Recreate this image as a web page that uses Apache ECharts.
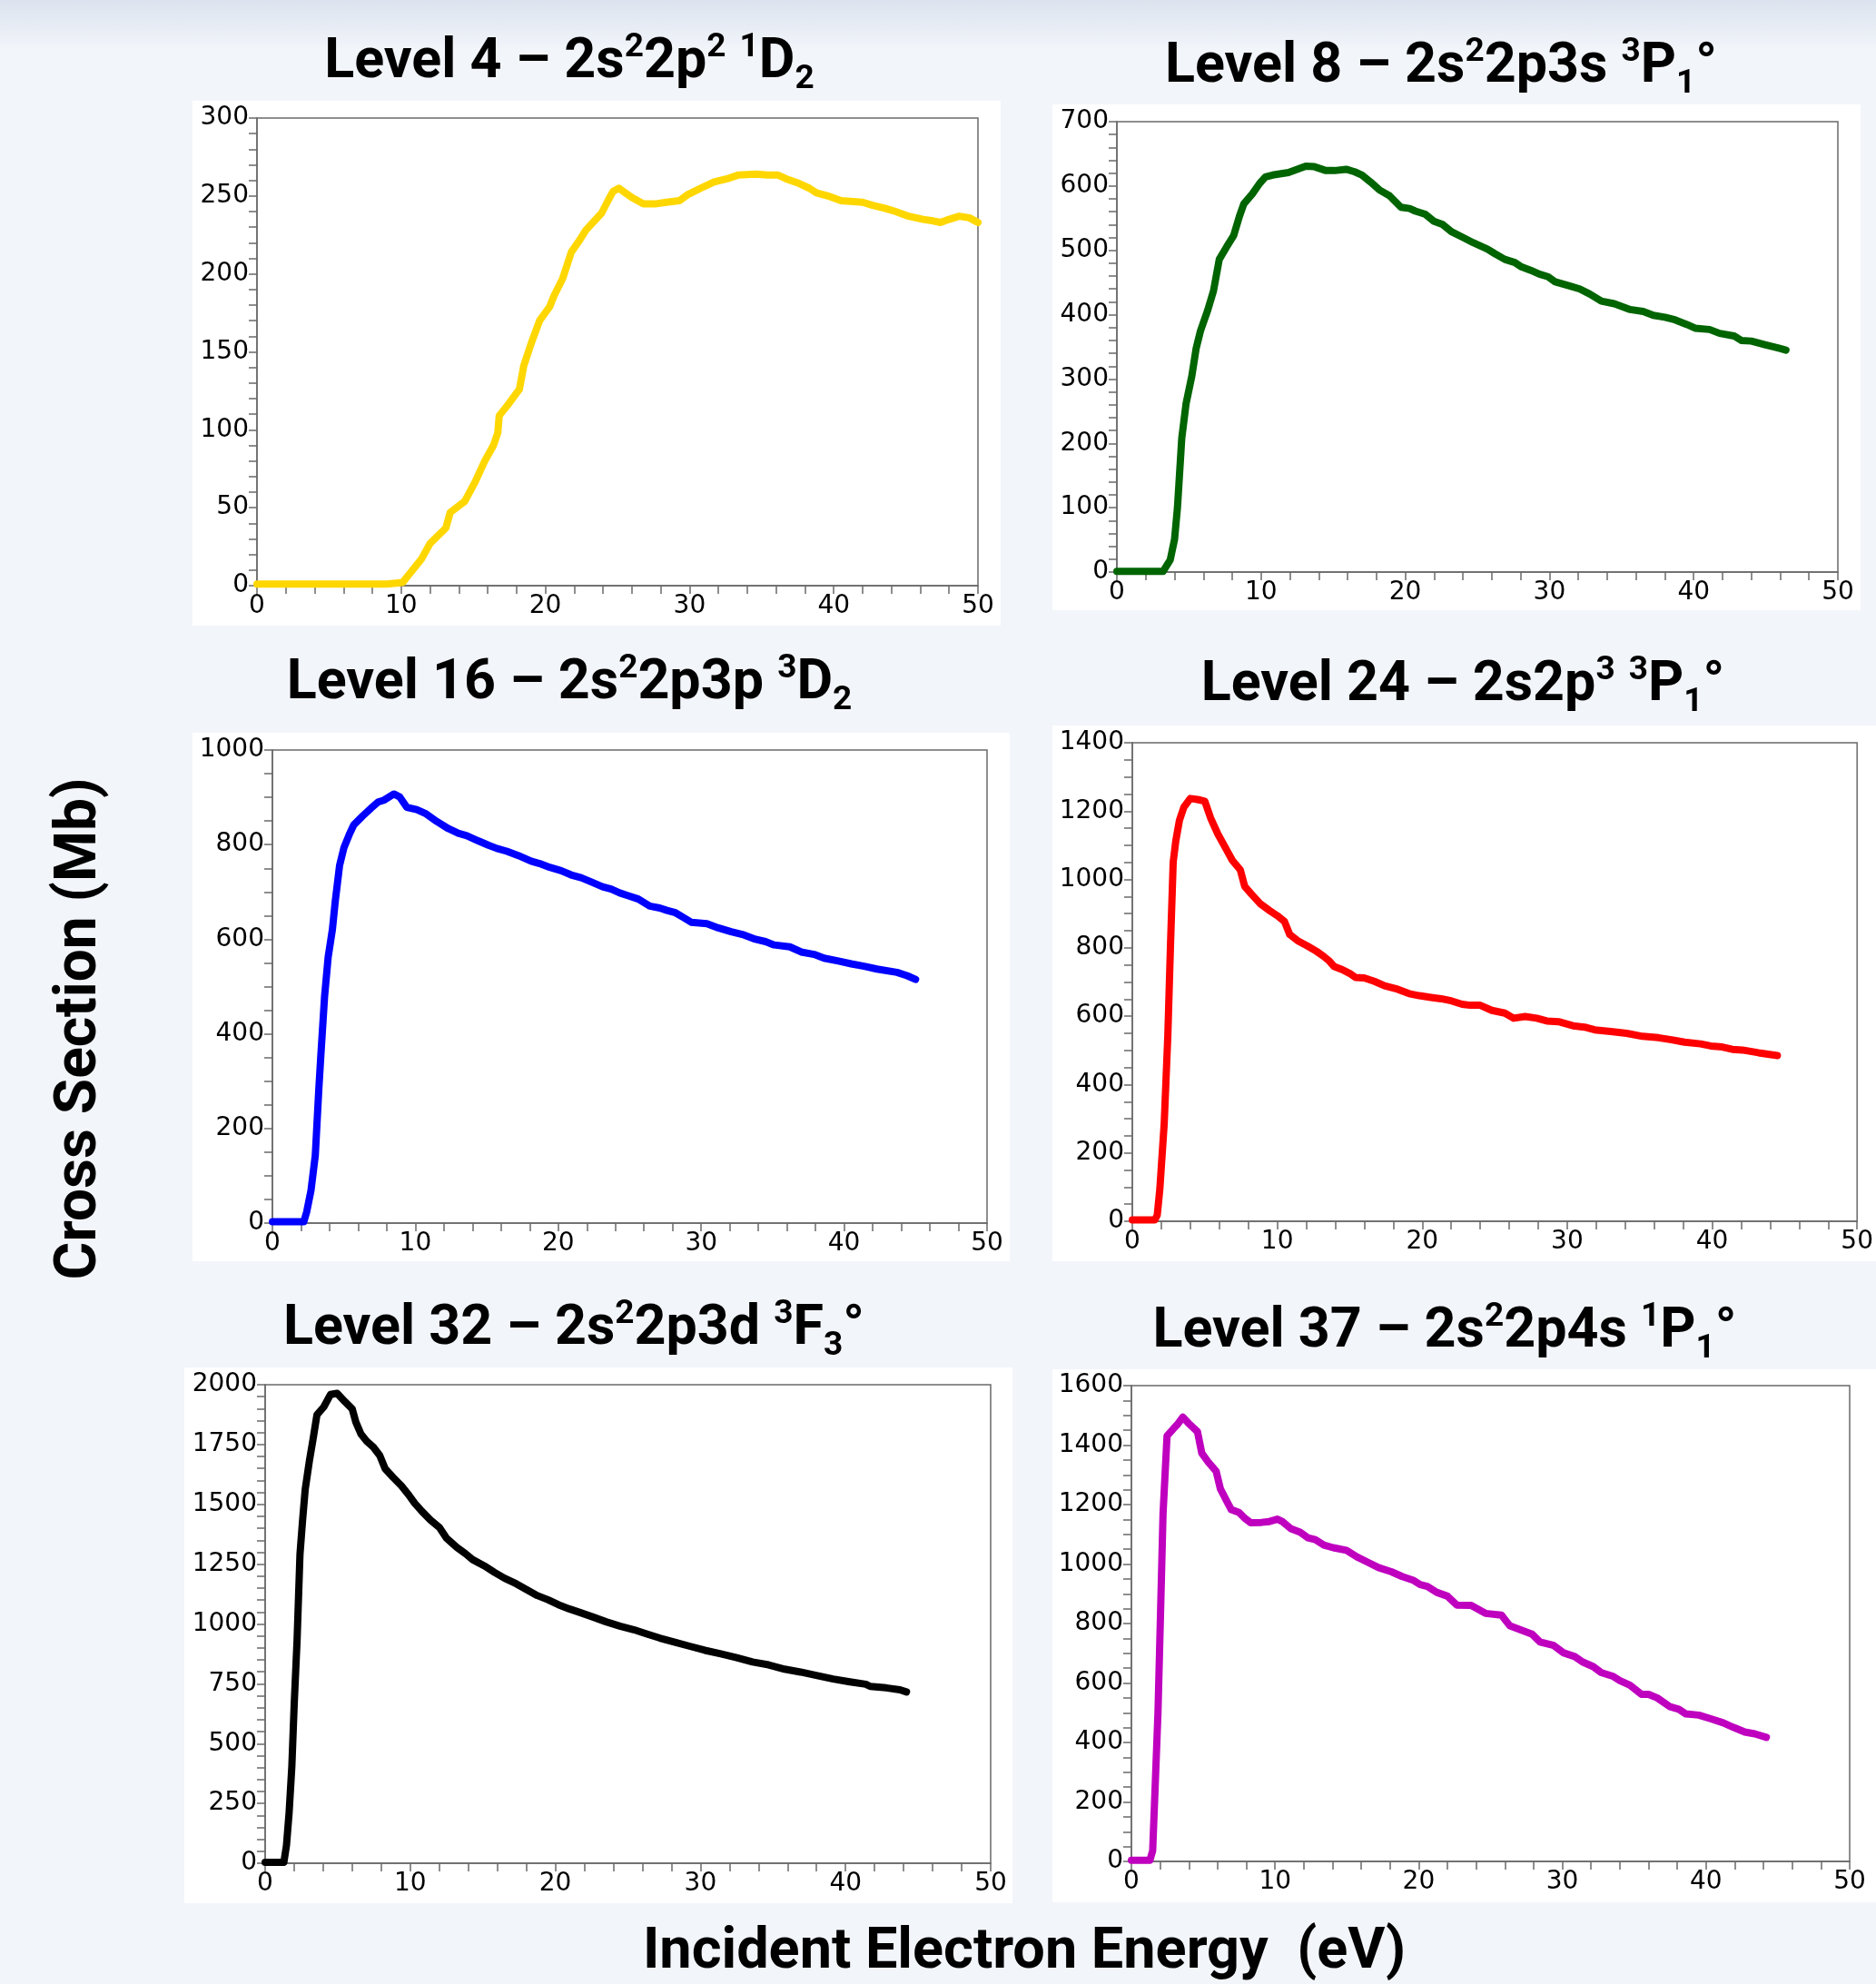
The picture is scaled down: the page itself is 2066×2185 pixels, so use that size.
<!DOCTYPE html>
<html>
<head>
<meta charset="utf-8">
<script src="https://cdn.jsdelivr.net/npm/echarts@6/dist/echarts.min.js"></script>
<style>
  html, body { margin: 0; padding: 0; background: #f2f5fa; }
  #chart { width: 2066px; height: 2185px; }
</style>
</head>
<body>
<div id="chart"></div>
<script>
// ---------------- DATA ----------------
const xTicks = [0, 10, 20, 30, 40, 50];

const titles = [
  '{n|Level 4 – 2s}{sup|2}{n|2p}{sup|2}{n| }{sup|1}{n|D}{sub|2}',
  '{n|Level 8 – 2s}{sup|2}{n|2p3s }{sup|3}{n|P}{sub|1}{n|°}',
  '{n|Level 16 – 2s}{sup|2}{n|2p3p }{sup|3}{n|D}{sub|2}',
  '{n|Level 24 – 2s2p}{sup|3}{n| }{sup|3}{n|P}{sub|1}{n|°}',
  '{n|Level 32 – 2s}{sup|2}{n|2p3d }{sup|3}{n|F}{sub|3}{n|°}',
  '{n|Level 37 – 2s}{sup|2}{n|2p4s }{sup|1}{n|P}{sub|1}{n|°}'
];
const yLabel = 'Cross Section (Mb)';
const xLabel = 'Incident Electron Energy  (eV)';

// Level 4
const e4 = [0, 9, 10.1, 11.4, 12, 13.1, 13.4, 14.4, 15.1, 15.8, 16.4, 16.7, 16.8, 17.4, 18.2, 18.5, 19, 19.6, 20.3, 20.6, 21.2, 21.8, 22.4, 22.8, 23.3, 23.9, 24.4, 24.7, 25.1, 25.4, 26, 26.4, 26.8, 27.7, 28.4, 29.3, 29.9, 31, 31.7, 32.6, 33.4, 34.6, 35.4, 36.1, 36.7, 37.6, 38.3, 38.8, 39.6, 40.5, 42, 42.7, 43.6, 44.3, 45.2, 46.2, 46.9, 47.4, 48, 48.7, 49.4, 50];
const cs4 = [1, 1, 2, 17, 27, 37, 47, 54, 66, 80, 90, 98, 109, 116, 126, 141, 155, 170, 179, 186, 197, 214, 222, 228, 233, 239, 248, 253, 255, 253, 249, 247, 245, 245, 246, 247, 251, 256, 259, 261, 263.5, 264, 263.5, 263.5, 261, 258, 255, 252, 250, 247, 246, 244, 242, 240, 237, 235, 234, 233, 235, 237, 236, 233];

// Level 8
const e8 = [0, 3.2, 3.7, 4.0, 4.2, 4.5, 4.8, 5.2, 5.5, 5.8, 6.3, 6.7, 7.1, 7.6, 8.1, 8.5, 8.8, 9.4, 9.9, 10.3, 10.8, 11.9, 12.5, 13.1, 13.7, 14.5, 15.1, 15.9, 16.5, 17.0, 17.6, 18.2, 18.9, 19.7, 20.3, 20.7, 21.4, 22.0, 22.6, 23.2, 24.0, 24.7, 25.7, 26.2, 26.9, 27.6, 28.0, 28.7, 29.3, 29.9, 30.4, 31.5, 32.1, 32.8, 33.6, 34.5, 35.6, 36.5, 37.2, 38.0, 38.7, 39.5, 40.1, 41.1, 41.8, 42.8, 43.3, 44.0, 45.0, 45.9, 46.4];
const cs8 = [1, 1, 19, 51, 100, 208, 262, 305, 348, 375, 407, 437, 486, 505, 523, 553, 572, 588, 604, 614, 617, 621, 626, 631, 630, 624, 624, 626, 622, 617, 606, 594, 585, 567, 565, 561, 556, 545, 540, 529, 520, 512, 502, 495, 486, 481, 475, 469, 463, 459, 451, 444, 440, 432, 421, 417, 408, 405, 399, 396, 392, 385, 379, 377, 371, 367, 360, 359, 353, 348, 345];

// Level 16
const e16 = [0, 2.2, 2.4, 2.7, 3.0, 3.25, 3.4, 3.65, 3.9, 4.2, 4.4, 4.7, 5.0, 5.4, 5.7, 6.3, 6.9, 7.4, 7.8, 8.5, 8.9, 9.4, 10.1, 10.7, 11.5, 12.3, 13.0, 13.6, 14.4, 15.1, 15.7, 16.4, 17.2, 18.1, 18.7, 19.4, 20.2, 20.9, 21.6, 22.4, 23.1, 23.7, 24.3, 24.9, 25.6, 26.4, 27.1, 27.6, 28.2, 28.7, 29.3, 30.4, 31.2, 32.1, 33.0, 33.8, 34.5, 35.1, 36.2, 37.0, 37.9, 38.6, 39.6, 40.5, 41.4, 42.3, 43.7, 44.4, 45.0];
const cs16 = [3, 3, 24, 69, 143, 285, 360, 479, 562, 621, 681, 756, 793, 823, 842, 860, 877, 890, 894, 907, 901, 879, 874, 866, 849, 834, 824, 819, 808, 799, 792, 786, 777, 765, 760, 752, 745, 736, 730, 720, 711, 706, 698, 692, 685, 670, 666, 661, 656, 647, 636, 633, 624, 616, 609, 600, 595, 588, 584, 573, 568, 560, 554, 548, 543, 537, 530, 523, 515];

// Level 24
const e24 = [0, 1.55, 1.72, 1.9, 2.2, 2.45, 2.63, 2.82, 3.0, 3.25, 3.55, 4.0, 4.5, 5.0, 5.4, 5.9, 6.5, 6.9, 7.45, 7.75, 8.2, 8.8, 9.4, 10.0, 10.5, 10.86, 11.4, 12.1, 12.7, 13.2, 13.6, 13.9, 14.5, 15.0, 15.4, 16.0, 16.7, 17.4, 18.3, 19.1, 19.8, 20.6, 21.3, 22.0, 22.75, 23.3, 24.0, 24.8, 25.7, 26.3, 27.1, 27.9, 28.6, 29.4, 30.4, 31.2, 31.9, 33.0, 34.1, 35.2, 36.3, 37.2, 38.1, 39.2, 39.9, 40.7, 41.4, 42.1, 43.2, 44.5];
const cs24 = [4, 4, 18, 95, 286, 544, 803, 1051, 1113, 1173, 1211, 1237, 1234, 1229, 1180, 1133, 1087, 1056, 1028, 980, 958, 930, 911, 894, 877, 839, 821, 805, 790, 775, 761, 746, 736, 725, 713, 712, 702, 689, 679, 666, 660, 655, 651, 645, 635, 632, 632, 617, 609, 594, 599, 594, 586, 584, 572, 568, 560, 555, 550, 541, 537, 531, 524, 519, 513, 510, 503, 501, 493, 485];

// Level 32
const e32 = [0, 1.29, 1.47, 1.65, 1.84, 2.0, 2.2, 2.4, 2.57, 2.76, 3.05, 3.3, 3.57, 4.04, 4.5, 4.96, 5.5, 6.0, 6.25, 6.6, 7.0, 7.46, 7.9, 8.27, 8.8, 9.4, 9.9, 10.3, 10.8, 11.4, 12.0, 12.5, 13.2, 13.8, 14.3, 15.1, 15.8, 16.5, 17.3, 18.0, 18.75, 19.5, 20.2, 20.96, 21.7, 22.6, 23.5, 24.45, 25.4, 26.3, 27.2, 28.3, 29.2, 30.3, 31.4, 32.5, 33.6, 34.7, 35.8, 36.9, 38.05, 39.15, 40.3, 41.4, 41.7, 42.8, 43.75, 44.2];
const cs32 = [4, 4, 75, 210, 405, 661, 931, 1291, 1426, 1562, 1682, 1772, 1874, 1907, 1959, 1964, 1929, 1899, 1844, 1794, 1764, 1739, 1704, 1649, 1614, 1577, 1539, 1505, 1471, 1434, 1404, 1359, 1321, 1294, 1269, 1243, 1216, 1191, 1168, 1144, 1119, 1101, 1081, 1063, 1048, 1029, 1009, 991, 976, 958, 941, 923, 908, 890, 875, 859, 841, 829, 811, 799, 784, 770, 758, 748, 739, 733, 725, 716];

// Level 37
const e37 = [0, 1.29, 1.48, 1.66, 1.85, 2.03, 2.2, 2.48, 2.96, 3.2, 3.58, 4.07, 4.6, 4.9, 5.36, 5.9, 6.2, 6.6, 6.95, 7.5, 7.87, 8.3, 9.05, 9.6, 10.16, 10.5, 11.1, 11.75, 12.3, 12.8, 13.4, 14.05, 14.97, 15.7, 16.45, 17.2, 18.1, 18.85, 19.6, 20.1, 20.6, 21.25, 22.0, 22.65, 23.65, 24.65, 25.76, 26.35, 27.35, 27.9, 28.45, 29.4, 30.1, 30.86, 31.4, 32.15, 32.7, 33.5, 34.0, 34.7, 35.5, 36.0, 36.6, 37.5, 38.1, 38.6, 39.5, 40.3, 41.2, 41.9, 42.7, 43.4, 44.2];
const cs37 = [4, 4, 36, 260, 502, 840, 1167, 1431, 1457, 1469, 1494, 1469, 1445, 1373, 1342, 1312, 1252, 1215, 1183, 1173, 1155, 1139, 1140, 1143, 1151, 1143, 1119, 1107, 1088, 1082, 1064, 1055, 1046, 1024, 1006, 988, 974, 958, 946, 931, 925, 905, 892, 862, 861, 834, 828, 792, 774, 764, 738, 726, 701, 689, 671, 655, 635, 623, 608, 593, 562, 562, 550, 520, 512, 496, 492, 480, 466, 451, 435, 429, 417];

const yMax = [300, 700, 1000, 1400, 2000, 1600];
const yStep = [50, 100, 200, 200, 250, 200];
const yMinorSplit = [5, 5, 4, 4, 5, 4];
const colors = ['#FFD700', '#006400', '#0000FF', '#FF0000', '#000000', '#BF00BF'];
const energies = [e4, e8, e16, e24, e32, e37];
const crossSections = [cs4, cs8, cs16, cs24, cs32, cs37];

// ---------------- LAYOUT ----------------
const grids = [
  {left: 283, top: 130, width: 794, height: 515},
  {left: 1230, top: 134, width: 794, height: 496},
  {left: 300, top: 826, width: 787, height: 521},
  {left: 1247, top: 818, width: 799, height: 527},
  {left: 292, top: 1525, width: 799, height: 527},
  {left: 1246, top: 1526, width: 791, height: 524}
];
const panels = [
  {x: 212, y: 111, w: 890, h: 578},
  {x: 1159, y: 115, w: 890, h: 557},
  {x: 212, y: 807, w: 900, h: 582},
  {x: 1159, y: 799, w: 907, h: 590},
  {x: 203, y: 1506, w: 912, h: 590},
  {x: 1159, y: 1508, w: 907, h: 587}
];
const titlePos = [
  {cx: 627, base: 90}, {cx: 1587, base: 95},
  {cx: 627, base: 774}, {cx: 1611, base: 776},
  {cx: 632, base: 1485}, {cx: 1591, base: 1488}
];

const axisColor = '#6a6a6a';
const tickFont = {fontFamily: 'DejaVu Sans', fontSize: 28, color: '#000'};
const titleFont = 'Roboto';

const richStyle = {
  n: {fontFamily: titleFont, fontWeight: 'bold', fontSize: 61, lineHeight: 72, color: '#000'},
  sup: {fontFamily: titleFont, fontWeight: 'bold', fontSize: 37, lineHeight: 50, verticalAlign: 'top', color: '#000'},
  sub: {fontFamily: titleFont, fontWeight: 'bold', fontSize: 37, lineHeight: 28, verticalAlign: 'bottom', color: '#000'}
};

const graphics = [
  {type: 'rect', left: 0, top: 0, z: -10, shape: {x: 0, y: 0, width: 2066, height: 2185},
   style: {fill: new echarts.graphic.LinearGradient(0, 0, 0, 1, [
     {offset: 0, color: '#dbe3ee'}, {offset: 0.025, color: '#f2f5fa'}, {offset: 1, color: '#f2f5fa'}])}, silent: true}
];
panels.forEach(p => graphics.push({type: 'rect', z: -5, silent: true,
  shape: {x: p.x, y: p.y, width: p.w, height: p.h}, style: {fill: '#ffffff'}}));
titles.forEach((t, i) => graphics.push({type: 'text', z: 10, silent: true,
  x: titlePos[i].cx, y: titlePos[i].base - 56,
  style: {text: t, rich: richStyle, align: 'center', verticalAlign: 'top'}}));
graphics.push({type: 'text', silent: true, x: 89, y: 1133, rotation: Math.PI / 2,
  style: {text: yLabel, fontFamily: titleFont, fontWeight: 'bold', fontSize: 64, fill: '#000', align: 'center', verticalAlign: 'middle'}});
graphics.push({type: 'text', silent: true, x: 1128, y: 2151,
  style: {text: xLabel, fontFamily: titleFont, fontWeight: 'bold', fontSize: 63, fill: '#000', align: 'center', verticalAlign: 'middle'}});

const plain = v => String(v);

const option = {
  backgroundColor: 'transparent',
  animation: false,
  graphic: graphics,
  grid: grids.map(g => Object.assign({show: true, borderColor: axisColor, borderWidth: 1.5, backgroundColor: 'transparent', containLabel: false}, g)),
  xAxis: grids.map((g, i) => ({
    type: 'value', gridIndex: i, min: xTicks[0], max: xTicks[xTicks.length - 1], interval: xTicks[1] - xTicks[0],
    axisLine: {show: true, onZero: false, lineStyle: {color: axisColor, width: 1.5}},
    axisTick: {show: true, inside: false, length: 9, lineStyle: {color: axisColor, width: 1.5}},
    minorTick: {show: true, splitNumber: 5, length: 9, lineStyle: {color: axisColor, width: 1.5}},
    splitLine: {show: false}, minorSplitLine: {show: false},
    axisLabel: Object.assign({margin: 9, showMinLabel: true, showMaxLabel: true, formatter: plain}, tickFont)
  })),
  yAxis: grids.map((g, i) => ({
    type: 'value', gridIndex: i, min: 0, max: yMax[i], interval: yStep[i],
    axisLine: {show: true, onZero: false, lineStyle: {color: axisColor, width: 1.5}},
    axisTick: {show: true, inside: false, length: 9, lineStyle: {color: axisColor, width: 1.5}},
    minorTick: {show: true, splitNumber: yMinorSplit[i], length: 9, lineStyle: {color: axisColor, width: 1.5}},
    splitLine: {show: false}, minorSplitLine: {show: false},
    axisLabel: Object.assign({margin: 9, showMinLabel: true, showMaxLabel: true, formatter: plain}, tickFont)
  })),
  series: energies.map((e, i) => ({
    type: 'line', xAxisIndex: i, yAxisIndex: i, showSymbol: false, symbol: 'none',
    data: e.map((x, k) => [x, crossSections[i][k]]),
    lineStyle: {color: colors[i], width: 8, join: 'round', cap: 'round'},
    itemStyle: {color: colors[i]}, z: 3
  }))
};

const chart = echarts.init(document.getElementById('chart'), null, {renderer: 'canvas', width: 2066, height: 2185});
chart.setOption(option);
</script>
</body>
</html>
